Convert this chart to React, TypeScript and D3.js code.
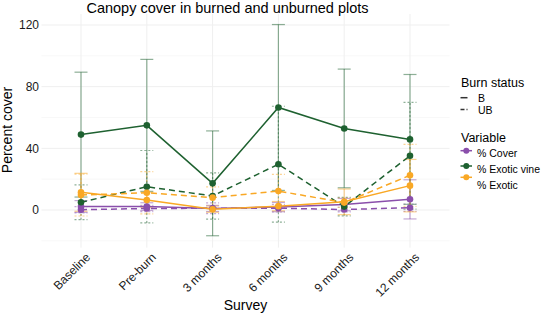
import React from "react";
import * as d3 from "d3";

const surveys = ["Baseline", "Pre-burn", "3 months", "6 months", "9 months", "12 months"];
const variables = ["% Cover", "% Exotic vine", "% Exotic"];
const burnStatus = ["B", "UB"];
const colors = ["#8a4fab", "#1e6130", "#f9a825"];
const yTicks = [0, 40, 80, 120];
const yMinor = [-20, 20, 60, 100];

// means
const coverB = [2.3, 2.2, 1.0, 1.9, 3.5, 6.9];
const coverUB = [0.2, 1.0, 1.1, 1.2, 0.3, 1.5];
const vineB = [48.9, 54.9, 17.3, 66.5, 52.9, 45.8];
const vineUB = [5.0, 15.1, 9.1, 29.7, 2.2, 35.2];
const exoticB = [11.5, 6.5, 0.5, 2.5, 5.3, 15.8];
const exoticUB = [9.7, 11.2, 8.0, 12.3, 4.8, 22.5];
// error half-widths
const coverBErr = [3.8, 2.5, 2.0, 3.0, 4.0, 12.7];
const coverUBErr = [2.0, 2.0, 3.5, 2.5, 1.5, 2.4];
const vineBErr = [40.5, 42.8, 34.0, 53.8, 38.5, 42.1];
const vineUBErr = [11.3, 23.5, 15.0, 37.6, 6.0, 34.6];
const exoticBErr = [12.3, 5.0, 2.0, 3.0, 8.3, 17.0];
const exoticUBErr = [13.6, 13.7, 7.0, 10.8, 3.0, 20.1];

const series = [
  { v: 0, b: 0, m: coverB, e: coverBErr },
  { v: 0, b: 1, m: coverUB, e: coverUBErr },
  { v: 1, b: 0, m: vineB, e: vineBErr },
  { v: 1, b: 1, m: vineUB, e: vineUBErr },
  { v: 2, b: 0, m: exoticB, e: exoticBErr },
  { v: 2, b: 1, m: exoticUB, e: exoticUBErr },
];

const FONT = "Liberation Sans, Arial, Helvetica, sans-serif";

export default function App() {
  const x = d3.scalePoint<string>().domain(surveys).range([81, 410]);
  const y = d3.scaleLinear().domain([0, 120]).range([210, 25]);
  const left = 41.5, right = 449.5, top = y(127.2), bottom = y(-24.4);
  const line = d3
    .line<number>()
    .x((_, i) => x(surveys[i]) as number)
    .y((d) => y(d));
  const capW = 6.5;

  return (
    <svg width={542} height={316} style={{ position: "absolute", left: 0, top: 0, background: "#fff" }} fontFamily={FONT}>
      <rect width={542} height={316} fill="#fff" />
      {/* grid */}
      {yMinor.map((t) => (
        <line key={"mn" + t} x1={left} x2={right} y1={y(t)} y2={y(t)} stroke="#f4f4f4" strokeWidth={0.6} />
      ))}
      {yTicks.map((t) => (
        <line key={"mj" + t} x1={left} x2={right} y1={y(t)} y2={y(t)} stroke="#efefef" strokeWidth={1} />
      ))}
      {surveys.map((s) => (
        <line key={"vx" + s} x1={x(s)} x2={x(s)} y1={top} y2={bottom} stroke="#efefef" strokeWidth={1} />
      ))}
      {/* error bars */}
      {series.map((s, si) =>
        s.m.map((m, i) => {
          const cx = x(surveys[i]) as number;
          const dash = s.b === 1 ? "2,2" : undefined;
          return (
            <g key={"eb" + si + "-" + i} stroke={colors[s.v]} strokeOpacity={0.5} strokeWidth={1.2} strokeDasharray={dash}>
              <line x1={cx} x2={cx} y1={y(m - s.e[i])} y2={y(m + s.e[i])} />
              <line x1={cx - capW} x2={cx + capW} y1={y(m + s.e[i])} y2={y(m + s.e[i])} />
              <line x1={cx - capW} x2={cx + capW} y1={y(m - s.e[i])} y2={y(m - s.e[i])} />
            </g>
          );
        })
      )}
      {/* lines */}
      {series.map((s, si) => (
        <path
          key={"ln" + si}
          d={line(s.m) as string}
          fill="none"
          stroke={colors[s.v]}
          strokeWidth={1.5}
          strokeDasharray={s.b === 1 ? "6,4" : undefined}
        />
      ))}
      {/* points */}
      {series.map((s, si) =>
        s.m.map((m, i) => (
          <circle key={"pt" + si + "-" + i} cx={x(surveys[i])} cy={y(m)} r={3.3} fill={colors[s.v]} />
        ))
      )}
      {/* y axis labels */}
      {yTicks.map((t) => (
        <text key={"yt" + t} x={39} y={y(t)} dy="0.35em" textAnchor="end" fontSize={12} fill="#1a1a1a">
          {t}
        </text>
      ))}
      {/* x axis labels */}
      {surveys.map((s) => {
        const cx = (x(s) as number) + 4;
        return (
          <text
            key={"xt" + s}
            transform={`translate(${cx},${252}) rotate(-45)`}
            textAnchor="end"
            dy="0.7em"
            fontSize={12}
            fill="#1a1a1a"
          >
            {s}
          </text>
        );
      })}
      {/* axis titles */}
      <text x={245.5} y={310} textAnchor="middle" fontSize={14} fill="#000">
        Survey
      </text>
      <text transform={`translate(11.5,130) rotate(-90)`} textAnchor="middle" fontSize={14} fill="#000">
        Percent cover
      </text>
      <text x={227.5} y={12.5} textAnchor="middle" fontSize={14.5} fill="#000">
        Canopy cover in burned and unburned plots
      </text>
      {/* legend: burn status */}
      <text x={461} y={86.5} fontSize={12.5} fill="#000">
        Burn status
      </text>
      {burnStatus.map((b, i) => {
        const ky = i === 0 ? 97.7 : 109.5;
        return (
          <g key={"bs" + b}>
            <line x1={460.5} x2={467.5} y1={ky} y2={ky} stroke="#333" strokeWidth={1.5} strokeDasharray={i === 1 ? "4,2" : undefined} />
            <text x={478} y={ky + 4.3} fontSize={10.5} fill="#000">
              {b}
            </text>
          </g>
        );
      })}
      <text x={461} y={141.5} fontSize={12.5} fill="#000">
        Variable
      </text>
      {variables.map((v, i) => {
        const ky = [150.7, 166, 177.3][i];
        const ty = [156.7, 172.7, 188.7][i];
        return (
          <g key={"vr" + v}>
            <line x1={460.5} x2={472} y1={ky} y2={ky} stroke={colors[i]} strokeWidth={1.5} />
            <circle cx={466.3} cy={ky} r={3} fill={colors[i]} />
            <text x={477} y={ty} fontSize={10.5} fill="#000">
              {v}
            </text>
          </g>
        );
      })}
    </svg>
  );
}
